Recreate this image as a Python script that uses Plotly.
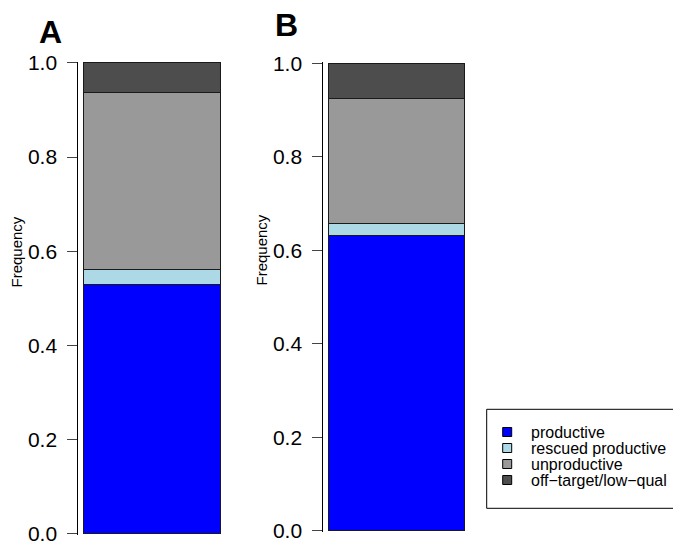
import plotly.graph_objects as go

# ---- data ----
panels = ["A", "B"]
categories = ["productive", "rescued productive", "unproductive", "off−target/low−qual"]
colors = ["#0000FF", "#ADD8E6", "#999999", "#4D4D4D"]
freq_A = [0.530, 0.030, 0.377, 0.063]
freq_B = [0.632, 0.026, 0.267, 0.075]
series = {"A": freq_A, "B": freq_B}
y_ticks = [0.0, 0.2, 0.4, 0.6, 0.8, 1.0]
y_tick_labels = ["0.0", "0.2", "0.4", "0.6", "0.8", "1.0"]

W, H = 673, 546
FONT = "Liberation Sans, Arial, Helvetica, sans-serif"

# pixel geometry for each panel: axis-line x, bar left, bar right, y of 1.0, y of 0.0
geom = {
    "A": dict(ax=78.3, bl=83.5, br=220.2, y1=63.0, y0=533.4),
    "B": dict(ax=323.3, bl=328.5, br=464.3, y1=63.2, y0=530.7),
}
PAD = 0.003

fig = go.Figure()
for i, p in enumerate(panels):
    g = geom[p]
    xa = "x" if i == 0 else f"x{i+1}"
    ya = "y" if i == 0 else f"y{i+1}"
    for cat, col, v in zip(categories, colors, series[p]):
        fig.add_trace(go.Bar(
            x=[p], y=[v], name=cat, marker=dict(color=col, line=dict(color="#1A1A1A", width=1)),
            width=1, xaxis=xa, yaxis=ya, showlegend=False, hoverinfo="skip",
        ))
    bw = g["br"] - g["bl"]
    right = g["br"] + 6
    xr = [-0.5 - (g["bl"] - g["ax"]) / bw, 0.5 + (right - g["br"]) / bw]
    ppu = g["y0"] - g["y1"]
    top = g["y1"] - PAD * ppu
    bot = g["y0"] + PAD * ppu
    xkey = "xaxis" if i == 0 else f"xaxis{i+1}"
    ykey = "yaxis" if i == 0 else f"yaxis{i+1}"
    fig.update_layout(**{
        xkey: dict(domain=[g["ax"] / W, right / W], range=xr, visible=False,
                   anchor=ya, fixedrange=True),
        ykey: dict(domain=[1 - bot / H, 1 - top / H], range=[-PAD, 1 + PAD], anchor=xa,
                   tickvals=y_ticks, ticktext=y_tick_labels, ticks="outside", ticklen=10,
                   tickcolor="#444444", tickwidth=1, showline=True, linecolor="#000000",
                   linewidth=1, showgrid=False, zeroline=False,
                   tickfont=dict(family=FONT, size=21, color="#000000"),
                   ticklabelstandoff=6, fixedrange=True),
    })
    # panel letter
    fig.add_annotation(text=f"<b>{p}</b>", xref="paper", yref="paper",
                       x=(50.5 if p == "A" else 286.5) / W,
                       y=1 - (31.5 if p == "A" else 25.0) / H,
                       xanchor="center", yanchor="middle", showarrow=False,
                       font=dict(family=FONT, size=32, color="#000000"))
    # y label
    fig.add_annotation(text="Frequency", xref="paper", yref="paper",
                       x=(16 if p == "A" else 261) / W,
                       y=1 - (252.5 if p == "A" else 250.5) / H,
                       xanchor="center", yanchor="middle", textangle=-90, showarrow=False,
                       font=dict(family=FONT, size=15, color="#000000"))

# ---- legend (drawn manually to match box geometry) ----
box_l, box_t, box_b = 486.7, 409.3, 508.3
fig.add_shape(type="rect", xref="paper", yref="paper",
              x0=box_l / W, x1=(W + 10) / W, y0=1 - box_b / H, y1=1 - box_t / H,
              line=dict(color="#000000", width=1), fillcolor="rgba(255,255,255,0)")
for k, (cat, col) in enumerate(zip(categories, colors)):
    cy = 432 + 16 * k
    fig.add_shape(type="rect", xref="paper", yref="paper",
                  x0=502.7 / W, x1=511.7 / W, y0=1 - (cy + 4.5) / H, y1=1 - (cy - 4.5) / H,
                  line=dict(color="#000000", width=1), fillcolor=col)
    fig.add_annotation(text=cat, xref="paper", yref="paper", x=529 / W, y=1 - cy / H,
                       xanchor="left", yanchor="middle", showarrow=False,
                       font=dict(family=FONT, size=16, color="#000000"))

fig.update_layout(
    width=W, height=H, barmode="stack", showlegend=False,
    margin=dict(l=0, r=0, t=0, b=0, pad=0, autoexpand=False),
    paper_bgcolor="#FFFFFF", plot_bgcolor="#FFFFFF",
)
fig.write_html(
    "out.html",
    config={"displayModeBar": False, "staticPlot": True},
    post_script="document.body.style.margin='0px';document.body.style.overflow='hidden';",
)
